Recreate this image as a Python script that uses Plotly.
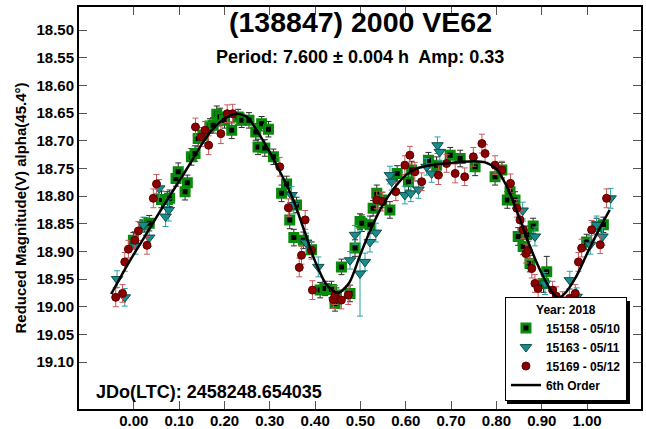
import plotly.graph_objects as go

# ---------------- data ----------------
g_phase = [-0.001, 0.024, 0.034, 0.061, 0.074, 0.079, 0.093, 0.098, 0.113, 0.118, 0.127, 0.135,
           0.142, 0.153, 0.168, 0.175, 0.183, 0.190, 0.200, 0.216, 0.230, 0.238, 0.254, 0.269,
           0.274, 0.282, 0.289, 0.297, 0.308, 0.326, 0.337, 0.344, 0.353, 0.359, 0.374, 0.392,
           0.411, 0.422, 0.436, 0.444, 0.447, 0.458, 0.477, 0.488, 0.499, 0.503, 0.521, 0.528,
           0.536, 0.547, 0.565, 0.581, 0.606, 0.613, 0.650, 0.668, 0.698, 0.720, 0.753, 0.797,
           0.812, 0.824, 0.830, 0.841, 0.848, 0.859, 0.867, 0.874, 0.881, 0.904, 0.911, 0.999,
           1.021, 1.036]
g_mag = [18.880, 18.852, 18.849, 18.806, 18.806, 18.804, 18.768, 18.756, 18.792, 18.776, 18.729, 18.723,
         18.696, 18.690, 18.673, 18.672, 18.652, 18.657, 18.663, 18.681, 18.657, 18.663, 18.663, 18.684,
         18.711, 18.669, 18.713, 18.679, 18.729, 18.795, 18.778, 18.843, 18.875, 18.816, 18.880, 18.897,
         18.970, 18.967, 18.969, 18.994, 18.979, 18.928, 18.976, 18.894, 18.846, 18.849, 18.852, 18.822,
         18.795, 18.807, 18.825, 18.759, 18.774, 18.753, 18.735, 18.744, 18.726, 18.732, 18.747, 18.765,
         18.753, 18.807, 18.792, 18.807, 18.873, 18.891, 18.870, 18.922, 18.854, 18.958, 18.937, 18.883,
         18.855, 18.852]
g_err = [0.014, 0.013, 0.014, 0.015, 0.014, 0.015, 0.014, 0.016, 0.015, 0.014, 0.015, 0.014,
         0.015, 0.014, 0.013, 0.014, 0.015, 0.016, 0.014, 0.015, 0.014, 0.013, 0.014, 0.015,
         0.014, 0.013, 0.015, 0.014, 0.014, 0.015, 0.014, 0.016, 0.015, 0.014, 0.015, 0.014,
         0.014, 0.013, 0.015, 0.014, 0.013, 0.014, 0.015, 0.015, 0.014, 0.015, 0.016, 0.014,
         0.015, 0.014, 0.015, 0.014, 0.015, 0.016, 0.014, 0.015, 0.014, 0.015, 0.016, 0.015,
         0.014, 0.015, 0.016, 0.015, 0.016, 0.015, 0.016, 0.015, 0.014, 0.016, 0.028, 0.014,
         0.015, 0.014]

t_phase = [-0.037, -0.020, 0.004, 0.021, 0.034, 0.056, 0.070, 0.077, 0.348, 0.352, 0.380, 0.407,
           0.477, 0.488, 0.499, 0.510, 0.521, 0.534, 0.565, 0.569, 0.598, 0.611, 0.628, 0.646,
           0.657, 0.670, 0.675, 0.858, 0.885, 0.907, 0.962, 0.977, 1.007, 1.021, 1.034, 1.052]
t_mag = [18.950, 18.983, 18.890, 18.852, 18.875, 18.786, 18.837, 18.825, 18.798, 18.816, 18.884, 18.928,
         18.916, 18.870, 18.940, 18.919, 18.883, 18.866, 18.762, 18.774, 18.798, 18.795, 18.788, 18.747,
         18.759, 18.708, 18.720, 18.826, 18.873, 18.958, 18.952, 18.982, 18.888, 18.852, 18.873, 18.804]
t_err = [0.015, 0.016, 0.015, 0.014, 0.016, 0.016, 0.018, 0.020, 0.015, 0.016, 0.017, 0.018,
         0.016, 0.017, 0.077, 0.016, 0.018, 0.017, 0.016, 0.015, 0.016, 0.015, 0.016, 0.015,
         0.016, 0.015, 0.016, 0.015, 0.017, 0.020, 0.016, 0.016, 0.017, 0.016, 0.016, 0.018]

r_phase = [-0.040, -0.025, -0.020, -0.012, 0.002, 0.010, 0.029, 0.043, 0.050, 0.136, 0.149, 0.157,
           0.165, 0.192, 0.206, 0.218, 0.322, 0.341, 0.365, 0.370, 0.378, 0.392, 0.394, 0.440,
           0.444, 0.458, 0.473, 0.536, 0.549, 0.578, 0.598, 0.609, 0.620, 0.635, 0.672, 0.690,
           0.709, 0.730, 0.749, 0.768, 0.775, 0.797, 0.812, 0.831, 0.845, 0.852, 0.859, 0.865,
           0.870, 0.878, 0.885, 0.892, 0.924, 0.932, 0.946, 0.961, 0.974, 0.981, 0.988, 1.010,
           1.029, 1.043]
r_mag = [18.983, 18.976, 18.919, 18.896, 18.880, 18.863, 18.889, 18.804, 18.778, 18.675, 18.693, 18.681,
         18.708, 18.687, 18.651, 18.651, 18.747, 18.821, 18.929, 18.907, 18.843, 18.898, 18.970, 18.987,
         18.979, 18.988, 18.979, 18.807, 18.810, 18.792, 18.744, 18.726, 18.756, 18.774, 18.762, 18.741,
         18.759, 18.765, 18.729, 18.705, 18.723, 18.744, 18.753, 18.777, 18.822, 18.843, 18.861, 18.904,
         18.898, 18.931, 18.958, 18.967, 18.970, 18.981, 18.989, 18.985, 18.976, 18.919, 18.894, 18.861,
         18.888, 18.804]
r_err = [0.017, 0.016, 0.017, 0.016, 0.016, 0.017, 0.016, 0.017, 0.017, 0.016, 0.017, 0.016,
         0.017, 0.018, 0.016, 0.017, 0.017, 0.016, 0.017, 0.016, 0.017, 0.016, 0.017, 0.016,
         0.017, 0.016, 0.017, 0.016, 0.017, 0.016, 0.017, 0.016, 0.017, 0.016, 0.017, 0.016,
         0.017, 0.016, 0.017, 0.017, 0.016, 0.017, 0.016, 0.017, 0.016, 0.017, 0.016, 0.017,
         0.016, 0.017, 0.016, 0.017, 0.016, 0.017, 0.016, 0.017, 0.016, 0.017, 0.016, 0.017,
         0.016, 0.017]

fit_phase = [-0.05, -0.025, 0.0, 0.025, 0.05, 0.075, 0.10, 0.125, 0.15, 0.175, 0.20, 0.225,
             0.25, 0.275, 0.30, 0.325, 0.35, 0.375, 0.40, 0.425, 0.45, 0.475, 0.50, 0.525,
             0.55, 0.575, 0.60, 0.625, 0.65, 0.675, 0.70, 0.725, 0.75, 0.775, 0.80, 0.825,
             0.85, 0.875, 0.90, 0.925, 0.9375, 0.95, 0.975, 1.00, 1.025, 1.05]
fit_mag = [18.977, 18.940, 18.905, 18.872, 18.838, 18.805, 18.773, 18.740, 18.706, 18.678, 18.660, 18.651,
           18.657, 18.686, 18.721, 18.760, 18.803, 18.860, 18.918, 18.960, 18.975, 18.957, 18.905, 18.856,
           18.815, 18.785, 18.762, 18.750, 18.745, 18.742, 18.740, 18.738, 18.737, 18.739, 18.751, 18.786,
           18.838, 18.893, 18.940, 18.976, 18.984, 18.977, 18.947, 18.904, 18.863, 18.825]

x_ticks = [0.0, 0.1, 0.2, 0.3, 0.4, 0.5, 0.6, 0.7, 0.8, 0.9, 1.0]
y_ticks = [18.50, 18.55, 18.60, 18.65, 18.70, 18.75, 18.80, 18.85, 18.90, 18.95, 19.00, 19.05, 19.10]

title_text = "(138847) 2000 VE62"
subtitle_text = "Period: 7.600 ± 0.004 h\u00a0 Amp: 0.33"
jd_text = "JDo(LTC): 2458248.654035"
y_title = "Reduced Magnitude(V) alpha(45.4°)"
legend_title = "Year: 2018"
series_names = ["15158 - 05/10", "15163 - 05/11", "15169 - 05/12", "6th Order"]

FONT = "Liberation Sans, Arial, sans-serif"

fig = go.Figure()

fig.add_trace(go.Scatter(
    x=g_phase, y=g_mag, mode="markers", name=series_names[0],
    error_y=dict(type="data", array=g_err, color="#2b2b2b", thickness=1, width=3),
    marker=dict(symbol="square", size=8, color="black", line=dict(color="#0a8a0a", width=3)),
))
fig.add_trace(go.Scatter(
    x=t_phase, y=t_mag, mode="markers", name=series_names[1],
    error_y=dict(type="data", array=t_err, color="#2aa3a3", thickness=1, width=3),
    marker=dict(symbol="triangle-down", size=10, color="#1b8b8b", line=dict(color="#0b4f4f", width=1)),
))
fig.add_trace(go.Scatter(
    x=r_phase, y=r_mag, mode="markers", name=series_names[2],
    error_y=dict(type="data", array=r_err, color="#c85a5a", thickness=1, width=3),
    marker=dict(symbol="circle", size=8, color="#8b0000", line=dict(color="#5a0000", width=1)),
))
fig.add_trace(go.Scatter(
    x=fit_phase, y=fit_mag, mode="lines", name=series_names[3],
    line=dict(color="black", width=2.5, shape="spline", smoothing=0.8),
))

axis_common = dict(
    showline=True, linewidth=2, linecolor="black", mirror="ticks",
    ticks="inside", ticklen=8, tickwidth=1, tickcolor="#555555",
    showgrid=False, zeroline=False,
    tickfont=dict(family=FONT, size=15, color="black", weight="bold"),
)

fig.update_xaxes(range=[-0.121, 1.119], tickvals=x_ticks,
                 ticktext=[f"{v:.2f}" for v in x_ticks], ticklabelstandoff=-3,
                 **axis_common)
fig.update_yaxes(range=[19.185, 18.458], tickvals=y_ticks,
                 ticktext=[f"{v:.2f}" for v in y_ticks],
                 title=dict(text=y_title, standoff=6,
                            font=dict(family=FONT, size=15, color="black", weight="bold")),
                 **axis_common)

fig.add_annotation(text=title_text, xref="paper", yref="paper", x=0.5, y=0.963,
                   xanchor="center", yanchor="middle", showarrow=False,
                   font=dict(family=FONT, size=28.5, color="black", weight="bold"))
fig.add_annotation(text=subtitle_text, xref="paper", yref="paper", x=0.5, y=0.876,
                   xanchor="center", yanchor="middle", showarrow=False,
                   font=dict(family=FONT, size=18, color="black", weight="bold"))
fig.add_annotation(text=jd_text, xref="paper", yref="paper", x=0.027, y=0.042,
                   xanchor="left", yanchor="middle", showarrow=False,
                   font=dict(family=FONT, size=18, color="black", weight="bold"))

# drop shadow behind the legend box
fig.add_shape(type="rect", xref="paper", yref="paper",
              x0=0.7616, x1=0.9804, y0=0.0124, y1=0.2687,
              fillcolor="black", line=dict(width=0), layer="above")

fig.update_layout(
    width=646, height=429,
    margin=dict(l=79, r=5, t=7, b=20, autoexpand=False),
    paper_bgcolor="white", plot_bgcolor="white",
    showlegend=True,
    legend=dict(
        x=0.975, y=0.02, xanchor="right", yanchor="bottom",
        bgcolor="white", bordercolor="black", borderwidth=1,
        font=dict(family=FONT, size=12, color="black", weight="bold"),
        title=dict(text=legend_title, side="top center",
                   font=dict(family=FONT, size=12, color="black", weight="bold")),
        tracegroupgap=0, itemwidth=30,
    ),
)

fig.write_html("out.html", config={"displayModeBar": False},
               post_script="document.body.style.margin='0';")
